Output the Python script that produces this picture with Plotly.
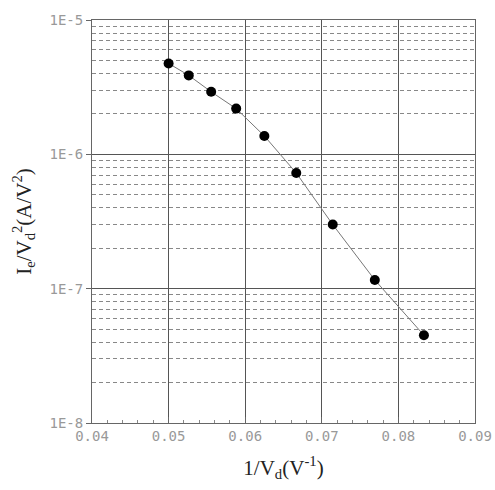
import plotly.graph_objects as go

# data
inv_vd = [1/20, 1/19, 1/18, 1/17, 1/16, 1/15, 1/14, 1/13, 1/12]
ie_vd2 = [4.75e-6, 3.87e-6, 2.92e-6, 2.19e-6, 1.37e-6, 7.26e-7, 3.0e-7, 1.16e-7, 4.5e-8]
x_ticks = [0.04, 0.05, 0.06, 0.07, 0.08, 0.09]
x_ticklabels = ["0.04", "0.05", "0.06", "0.07", "0.08", "0.09"]
y_ticks = [1e-8, 1e-7, 1e-6, 1e-5]
y_ticklabels = ["1E-8", "1E-7", "1E-6", "1E-5"]

fig = go.Figure()
fig.add_trace(go.Scatter(
    x=inv_vd, y=ie_vd2, mode="lines+markers",
    line=dict(color="#777777", width=1),
    marker=dict(color="black", size=10),
    showlegend=False,
))

tickfont = dict(family="DejaVu Sans Mono", size=14, color="#999999")
titlefont = dict(family="Liberation Serif", size=21, color="#222222")

fig.update_layout(
    width=495, height=490,
    margin=dict(l=92, r=20, t=20, b=67),
    paper_bgcolor="white", plot_bgcolor="white",
    xaxis=dict(
        range=[0.04, 0.09], tickvals=x_ticks, ticktext=x_ticklabels,
        tickfont=tickfont, showgrid=True, gridcolor="#555555", gridwidth=1,
        showline=True, linecolor="#666666", linewidth=1, mirror=True,
        ticks="inside", ticklen=6, tickcolor="#666666",
        minor=dict(dtick=0.002, ticks="inside", ticklen=3, tickcolor="#888888", showgrid=False),
        zeroline=False, automargin=False,
        title=dict(text="1/V<sub>d</sub>(V<sup>-1</sup>)", font=titlefont, standoff=17),
    ),
    yaxis=dict(
        type="log", range=[-8, -5], tickvals=y_ticks, ticktext=y_ticklabels,
        tickfont=tickfont, showgrid=True, gridcolor="#555555", gridwidth=1,
        showline=True, linecolor="#666666", linewidth=1, mirror=True,
        ticks="outside", ticklen=5, tickcolor="#666666",
        minor=dict(dtick="D1", showgrid=True, gridcolor="#888888", griddash="4px,3px", gridwidth=1, ticks=""),
        zeroline=False, automargin=False,
        title=dict(text="I<sub>e</sub>/V<sub>d</sub><sup>2</sup>(A/V<sup>2</sup>)", font=titlefont, standoff=12),
    ),
)

fig.write_html("out.html", config={"displayModeBar": False},
               post_script="document.body.style.margin='0px';")
